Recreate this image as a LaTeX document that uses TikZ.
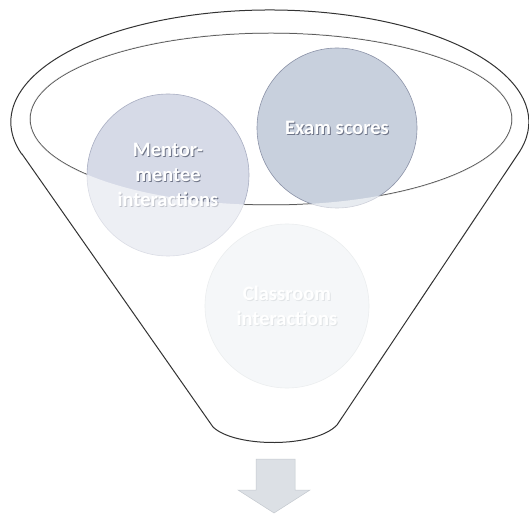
\documentclass[tikz,border=0pt]{standalone}
\usepackage{fontspec}
\setmainfont{Carlito}
\newfontfamily\ballfont{Carlito Bold}
\definecolor{mentorc}{HTML}{D6DAE7}
\definecolor{mentoredge}{HTML}{A9AEC2}
\definecolor{examc}{HTML}{C8D0DD}
\definecolor{examedge}{HTML}{8C93A8}
\definecolor{classc}{HTML}{E9EEF1}
\definecolor{classedge}{HTML}{D0D6DA}
\definecolor{darkshade}{HTML}{6F7588}
\definecolor{lightshade}{HTML}{B8C0C6}
\definecolor{arrowc}{HTML}{DCE0E5}
\definecolor{arrowedge}{HTML}{C4C9CF}
\newcommand\stx[2]{\leavevmode\rlap{\kern0.9pt\raisebox{-0.9pt}{\textcolor{#1}{#2}}}#2}
\begin{document}
\begin{tikzpicture}[x=1pt,y=1pt,
  funnelline/.style={draw=black!80, line width=1pt},
  ball/.style={circle, inner sep=0pt, line width=0.6pt,
    font=\ballfont\fontsize{20.5}{25}\selectfont, text=white, align=center},
  veil/.style={fill=white, fill opacity=0.58, even odd rule},
  downarrow/.style={fill=arrowc, draw=arrowedge, line width=0.5pt}
]
\useasboundingbox (0,0) rectangle (529,514);
\fill[white] (0,0) rectangle (529,514);
% inner ellipse (rim), under the balls
\draw[funnelline] (271,395) ellipse[x radius=241, y radius=86];
% balls
\node[ball, minimum size=162pt, fill=mentorc, draw=mentoredge] (mentor) at (168,339)
  {\stx{darkshade}{Mentor-}\\\stx{darkshade}{mentee}\\\stx{darkshade}{interactions}};
\node[ball, minimum size=160pt, fill=examc, draw=examedge] (exam) at (337,386)
  {\stx{darkshade}{Exam scores}};
\node[ball, minimum size=164pt, fill=classc, draw=classedge] (class) at (287,208)
  {\stx{lightshade}{Classroom}\\\stx{lightshade}{interactions}};
% translucent funnel body
\path[veil] (22,360) -- (213,87) .. controls (235,66) and (315,66) .. (337,89)
  -- (518,360) arc[start angle=-16.6, end angle=196.6, x radius=259, y radius=112] -- cycle
  (271,395) ellipse[x radius=241, y radius=86];
% funnel outline
\draw[funnelline] (22,360) -- (213,87) .. controls (235,66) and (315,66) .. (337,89)
  -- (518,360) arc[start angle=-16.6, end angle=196.6, x radius=259, y radius=112] -- cycle;
% down arrow
\draw[downarrow] (256,55) -- (295,55) -- (295,24) -- (310,24) -- (274,1) -- (238,24) -- (256,24) -- cycle;
\end{tikzpicture}
\end{document}
